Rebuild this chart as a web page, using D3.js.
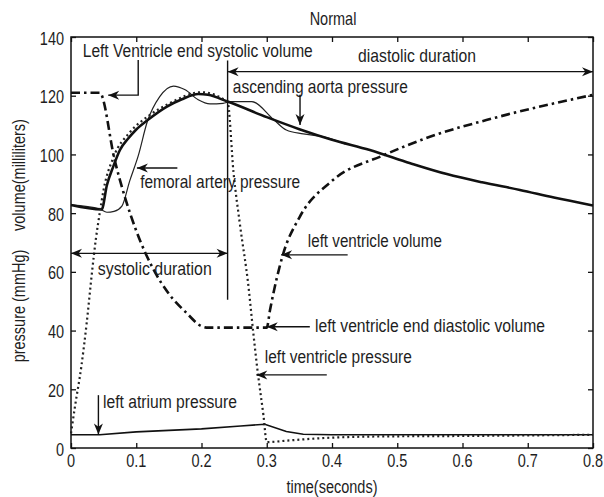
<!DOCTYPE html>
<html>
<head>
<meta charset="utf-8">
<script src="https://cdn.jsdelivr.net/npm/d3@7"></script>
<style>
  body { margin: 0; background: #fff; }
  text { font-family: "Liberation Sans", Arial, sans-serif; font-size: 14.5px; fill: #1e1e1e; }
</style>
</head>
<body>
<script>
const width = 604;
const height = 497;

// time (s) / value pairs
const aortaPressure = [[0, 82.8], [0.047, 81.3], [0.055, 89.5], [0.065, 96], [0.075, 101.5], [0.088, 105.5],
    [0.1, 108.5], [0.118, 111.8], [0.147, 116.3], [0.17, 118.8], [0.195, 120.6], [0.21, 120.3], [0.24, 118],
    [0.3, 112.7], [0.35, 108.6], [0.4, 105], [0.458, 101.5], [0.52, 97], [0.576, 93.3], [0.63, 90.5],
    [0.688, 87.9], [0.74, 85.3], [0.8, 82.6]];
const femoralPressure = [[0, 82.8], [0.044, 81.4], [0.055, 80.3], [0.066, 80.6], [0.078, 82.4], [0.09, 91],
    [0.103, 99.5], [0.117, 111.2], [0.136, 119.7], [0.157, 123.3], [0.175, 122], [0.195, 118.6], [0.213, 117.2],
    [0.233, 117.4], [0.245, 118], [0.277, 118], [0.31, 112], [0.33, 108.3], [0.356, 107], [0.387, 106], [0.42, 103.6]];
const ventriclePressure = [[0, 5], [0.006, 14], [0.016, 28], [0.024, 42.5], [0.032, 59.5], [0.038, 71],
    [0.044, 80], [0.05, 88], [0.065, 99], [0.09, 107.5], [0.12, 113.3], [0.15, 117.3], [0.2, 121.2], [0.24, 117.8],
    [0.249, 94], [0.259, 76], [0.272, 55], [0.279, 40], [0.285, 28], [0.295, 11], [0.3, 2], [0.33, 2.5],
    [0.38, 3.3], [0.46, 3.9], [0.6, 4.1], [0.8, 4.5]];
const ventricleVolume = [[0, 121], [0.044, 121], [0.067, 98], [0.1, 74], [0.126, 61], [0.15, 52.5],
    [0.177, 46], [0.2, 41.5], [0.21, 41], [0.3, 41], [0.305, 47], [0.325, 66], [0.35, 78.5], [0.4, 91],
    [0.48, 99.8], [0.55, 106], [0.65, 112.5], [0.8, 120.3]];
const atriumPressure = [[0, 4.5], [0.044, 4.5], [0.1, 5.5], [0.2, 6.5], [0.26, 7.5], [0.297, 8.1],
    [0.33, 5.6], [0.356, 4.7], [0.4, 4.5], [0.8, 4.5]];

const timeTicks = [0, 0.1, 0.2, 0.3, 0.4, 0.5, 0.6, 0.7, 0.8];
const valueTicks = [0, 20, 40, 60, 80, 100, 120, 140];

const systoleEnd = 0.24;

const svg = d3.select('body')
    .append('svg')
    .attr('width', width)
    .attr('height', height);

const x = d3.scaleLinear().domain([0, 0.8]).range([71, 593]);
const y = d3.scaleLinear().domain([0, 140]).range([448, 37]);

const stretch = 1.33;

function label(txt, px, py, anchor, len) {
    const g = svg.append('g')
        .attr('transform', `translate(${px},${py}) scale(1,${stretch})`);
    const t = g.append('text')
        .attr('text-anchor', anchor || 'start')
        .text(txt);
    if (len) t.attr('textLength', len).attr('lengthAdjust', 'spacingAndGlyphs');
    return t;
}

function arrowHead(x1, y1, x2, y2) {
    const a = Math.atan2(y2 - y1, x2 - x1);
    const L = 11, W = 4.5;
    const bx = x2 - L * Math.cos(a), by = y2 - L * Math.sin(a);
    const nx = -Math.sin(a), ny = Math.cos(a);
    const mx = x2 - 0.7 * L * Math.cos(a), my = y2 - 0.7 * L * Math.sin(a);
    svg.append('path')
        .attr('d', `M${x2},${y2} L${bx + nx * W},${by + ny * W} L${mx},${my} L${bx - nx * W},${by - ny * W} Z`)
        .style('fill', '#111');
}

function arrow(pts, both) {
    const p = pts.map(d => [x(d[0]), y(d[1])]);
    svg.append('path')
        .attr('d', d3.line()(p))
        .style('fill', 'none')
        .style('stroke', '#111')
        .style('stroke-width', 1.4);
    const n = p.length;
    arrowHead(p[n - 2][0], p[n - 2][1], p[n - 1][0], p[n - 1][1]);
    if (both) arrowHead(p[1][0], p[1][1], p[0][0], p[0][1]);
}

// frame and ticks
svg.append('rect')
    .attr('x', x(0)).attr('y', y(140))
    .attr('width', x(0.8) - x(0)).attr('height', y(0) - y(140))
    .style('fill', 'none').style('stroke', '#111').style('stroke-width', 1.5);

svg.append('g')
    .attr('transform', `translate(0,${y(0)})`)
    .call(d3.axisBottom(x).tickValues(timeTicks).tickSize(-5).tickFormat(''))
    .call(g => g.select('.domain').remove());
svg.append('g')
    .attr('transform', `translate(0,${y(140)})`)
    .call(d3.axisTop(x).tickValues(timeTicks).tickSize(-5).tickFormat(''))
    .call(g => g.select('.domain').remove());
svg.append('g')
    .attr('transform', `translate(${x(0)},0)`)
    .call(d3.axisLeft(y).tickValues(valueTicks).tickSize(-5).tickFormat(''))
    .call(g => g.select('.domain').remove());
svg.append('g')
    .attr('transform', `translate(${x(0.8)},0)`)
    .call(d3.axisRight(y).tickValues(valueTicks).tickSize(-5).tickFormat(''))
    .call(g => g.select('.domain').remove());
svg.selectAll('.tick line').style('stroke', '#111').style('stroke-width', 1.3);

timeTicks.forEach(t => label(d3.format('')(t), x(t), 467, 'middle'));
valueTicks.forEach(v => label(v, 64, y(v) + 7.5, 'end'));

// curves
const line = d3.line()
    .x(d => x(d[0]))
    .y(d => y(d[1]))
    .curve(d3.curveMonotoneX);
const straight = d3.line()
    .x(d => x(d[0]))
    .y(d => y(d[1]));

svg.append('path').attr('d', line(femoralPressure))
    .style('fill', 'none').style('stroke', '#222').style('stroke-width', 1.2);
svg.append('path').attr('d', straight(atriumPressure))
    .style('fill', 'none').style('stroke', '#111').style('stroke-width', 1.6);
svg.append('path').attr('d', line(aortaPressure))
    .style('fill', 'none').style('stroke', '#111').style('stroke-width', 2.6);
svg.append('path').attr('d', line(ventriclePressure))
    .style('fill', 'none').style('stroke', '#222').style('stroke-width', 2.2)
    .style('stroke-dasharray', '2,3');
svg.append('path').attr('d', line(ventricleVolume))
    .style('fill', 'none').style('stroke', '#111').style('stroke-width', 2.6)
    .style('stroke-dasharray', '9,4,2.5,4');

// systole / diastole markers
svg.append('line')
    .attr('x1', x(systoleEnd)).attr('x2', x(systoleEnd))
    .attr('y1', y(132)).attr('y2', y(50.5))
    .style('stroke', '#111').style('stroke-width', 1.4);
arrow([[0, 66.3], [systoleEnd, 66.3]], true);
arrow([[systoleEnd, 128.2], [0.8, 128.2]], true);

// annotations
label('Left Ventricle end systolic volume', x(0.018), y(133.3), 'start', 230);
arrow([[0.103, 132.2], [0.103, 120.2], [0.057, 120.2]]);

label('diastolic duration', x(0.44), y(131.6), 'start', 118);

label('ascending aorta pressure', x(0.248), y(121), 'start', 175);
arrow([[0.351, 120.3], [0.351, 110]]);

label('femoral artery pressure', x(0.106), y(88.6), 'start', 160);
arrow([[0.163, 95.4], [0.101, 95.4]]);

label('systolic duration', x(0.041), y(59), 'start', 114);

label('left ventricle volume', x(0.363), y(68.6), 'start', 134);
arrow([[0.424, 65.8], [0.322, 65.8]]);

label('left ventricle  end diastolic volume', x(0.374), y(39.6), 'start', 230);
arrow([[0.366, 41.3], [0.3, 41.3]]);

label('left ventricle pressure', x(0.297), y(28.9), 'start', 147);
arrow([[0.392, 24.9], [0.284, 24.9]]);

label('left atrium pressure', x(0.049), y(13.5), 'start', 134);
arrow([[0.042, 18], [0.042, 4.6]]);

// titles
label('Normal', 333, 25, 'middle');
label('time(seconds)', 332, 493, 'middle');
svg.append('g')
    .attr('transform', `translate(25,306) rotate(-90) scale(1,${stretch})`)
    .append('text').attr('text-anchor', 'middle').text('pressure (mmHg)');
svg.append('g')
    .attr('transform', `translate(25,175) rotate(-90) scale(1,${stretch})`)
    .append('text').attr('text-anchor', 'middle').text('volume(milliliters)');
</script>
</body>
</html>
